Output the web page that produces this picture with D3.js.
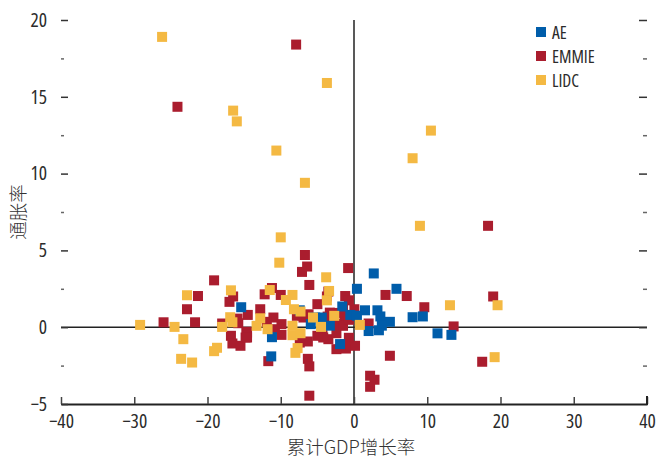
<!DOCTYPE html>
<html><head><meta charset="utf-8">
<script src="https://cdn.jsdelivr.net/npm/d3@7"></script>
<style>
body{margin:0;background:#fff;}
svg{display:block;}
.tl{font-family:"Open Sans","Roboto",sans-serif;font-stretch:75%;font-size:19.5px;fill:#2b2b2b;}
.lg{font-family:"Open Sans","Roboto",sans-serif;font-stretch:75%;font-size:17.5px;fill:#2b2b2b;}
.ttl{font-family:"Noto Sans CJK SC",sans-serif;font-weight:300;font-size:18.5px;fill:#333;}
</style></head><body>
<svg id="c" width="658" height="460"></svg>
<script>
const seriesNames = ["AE","EMMIE","LIDC"];
const xTicks = [-40,-30,-20,-10,0,10,20,30,40];
const yTicks = [-5,0,5,10,15,20];
const yMinorTicks = [-2.5,2.5,7.5,12.5,17.5];

const aeData = [[2.7,3.5],[0.4,2.5],[5.8,2.5],[1.5,1.1],[3.2,1.1],[3.6,0.7],[4.9,0.35],[3.8,0.1],[3.4,-0.2],[2.0,-0.25],
 [8.0,0.65],[9.4,0.7],[11.4,-0.4],[13.3,-0.5],[-15.4,1.3],[-11.3,-1.9],[-11.2,-0.65],[-1.9,-1.1],[-1.6,1.35],[-0.5,0.8],
 [-4.4,0.63],[-3.3,0.1],[-5.9,0.2],[-5.3,0.63],[0.4,0.75],[-7.4,1.1]];
const emmieData = [[-7.9,18.4],[-24.1,14.35],[18.3,6.6],[19.0,2.0],[13.6,0.05],[17.5,-2.25],[-6.7,4.7],[-6.4,3.95],[-7.1,3.6],[-0.8,3.85],
 [-19.1,3.05],[-6.1,2.75],[-16.5,2.0],[-17.0,1.65],[-14.5,0.8],[-15.9,0.56],[-15.8,0.26],[-18.0,0.24],[-21.3,2.03],[-22.8,1.17],
 [-26.0,0.32],[-21.7,0.32],[-16.8,-0.56],[-16.6,-1.06],[-15.5,-1.21],[-14.8,-0.67],[-14.7,-0.3],[4.3,2.1],[7.2,2.03],[9.6,1.3],
 [2.0,0.24],[0.05,1.17],[-1.2,2.03],[-0.7,1.75],[4.9,-1.86],[2.2,-3.16],[2.8,-3.42],[2.2,-3.88],[-6.1,-4.46],[-6.3,-2.06],
 [-6.1,-2.55],[-11.7,-2.21],[-6.3,-0.93],[0.14,-1.21],[-1.1,-1.39],[-0.7,-0.69],[-3.5,-0.78],[-4.2,-0.67],[-2.4,-0.39],[-1.3,0.69],
 [-2.2,0.93],[-2.4,0.21],[-1.5,0.09],[-0.7,0.48],[-3.6,0.69],[-4.3,-0.52],[-3.5,2.32],[-5.0,1.5],[-6.2,0.84],[-6.9,0.63],
 [-10.0,2.1],[-11.2,2.55],[-12.2,2.14],[-12.8,1.17],[-14.6,-0.35],[-14.6,-0.67],[-11.0,0.63],[-9.9,0.2],[-11.9,0.35],[-9.9,-0.5],
 [-7.4,-1.0],[-7.8,0.74],[-10.8,-0.13],[-5.0,-0.56],[-3.3,0.95],[-1.2,-1.1],[-2.4,-1.43],[-3.7,2.0],[-1.5,1.2]];
const lidcData = [[-26.2,18.9],[-16.5,14.1],[-16.0,13.4],[-3.7,15.9],[-10.6,11.5],[-6.7,9.4],[10.5,12.8],[8.0,11.0],[9.0,6.6],[-10.0,5.85],
 [-10.2,4.2],[-3.8,3.25],[13.1,1.43],[19.6,1.43],[19.2,-1.95],[-16.8,2.4],[-16.9,0.65],[-16.6,0.32],[-18.0,0.02],[-22.8,2.08],
 [-29.2,0.15],[-24.5,0.02],[-23.3,-0.78],[-23.6,-2.06],[-22.1,-2.3],[-18.7,-1.34],[-19.1,-1.56],[0.8,0.15],[-8.0,-1.67],[-7.7,-1.36],
 [-2.7,0.74],[-4.5,0.02],[-3.4,2.36],[-3.7,1.75],[-5.6,0.63],[-7.3,1.02],[-8.2,1.17],[-9.3,1.77],[-8.4,2.1],[-11.5,2.42],
 [-12.8,0.58],[-13.3,0.09],[-11.8,-0.13],[-8.4,0.09],[-8.4,-0.52],[-7.3,-0.39]];

const colors = {AE:"#005DAA",EMMIE:"#AA1D2E",LIDC:"#F4B943"};
const seriesData = {AE:aeData,EMMIE:emmieData,LIDC:lidcData};
const drawOrder = ["EMMIE","AE","LIDC"];

const svg = d3.select("#c");
const x = d3.scaleLinear().domain([-40,40]).range([61,647]);
const y = d3.scaleLinear().domain([-5,20]).range([404,20]);
const ink = "#222";
const fmt = d => d < 0 ? "\u2212" + Math.abs(d) : String(d);

// zero lines
svg.append("line").attr("x1",x(-40)).attr("x2",x(40)).attr("y1",y(0)).attr("y2",y(0)).attr("stroke",ink).attr("stroke-width",1.5);
svg.append("line").attr("x1",x(0)).attr("x2",x(0)).attr("y1",y(20)).attr("y2",y(-5)).attr("stroke",ink).attr("stroke-width",1.5);

// bottom axis
const xAxis = d3.axisBottom(x).tickValues(xTicks).tickSizeInner(-7).tickSizeOuter(0).tickPadding(10.5).tickFormat(fmt);
const gx = svg.append("g").attr("transform",`translate(0,${y(-5)})`).call(xAxis);
gx.select(".domain").attr("stroke",ink).attr("stroke-width",2);
gx.selectAll(".tick line").attr("stroke","#444").attr("stroke-width",1.5);
gx.selectAll("text").attr("class","tl").attr("font-size",null).attr("font-family",null).attr("fill",null);

// left axis (ticks inward)
const yAxis = d3.axisLeft(y).tickValues(yTicks).tickSizeInner(-7).tickSizeOuter(0).tickPadding(14).tickFormat(fmt);
const gy = svg.append("g").attr("transform",`translate(${x(-40)},0)`).call(yAxis);
gy.select(".domain").remove();
gy.selectAll(".tick line").attr("stroke","#333").attr("stroke-width",1.5);
gy.selectAll("text").attr("class","tl").attr("font-size",null).attr("font-family",null).attr("fill",null);
const gym = svg.append("g").attr("transform",`translate(${x(-40)},0)`)
  .call(d3.axisLeft(y).tickValues(yMinorTicks).tickSizeInner(-3).tickSizeOuter(0).tickFormat(""));
gym.select(".domain").remove();
gym.selectAll(".tick line").attr("stroke","#666").attr("stroke-width",1.5);

// right axis ticks
const gr = svg.append("g").attr("transform",`translate(${x(40)},0)`)
  .call(d3.axisRight(y).tickValues(yTicks.filter(d=>d>-5)).tickSizeInner(-8).tickSizeOuter(0).tickFormat(""));
gr.select(".domain").remove();
gr.selectAll(".tick line").attr("stroke","#333").attr("stroke-width",1.5);
const grm = svg.append("g").attr("transform",`translate(${x(40)},0)`)
  .call(d3.axisRight(y).tickValues(yMinorTicks).tickSizeInner(-4).tickSizeOuter(0).tickFormat(""));
grm.select(".domain").remove();
grm.selectAll(".tick line").attr("stroke","#666").attr("stroke-width",1.5);
svg.append("line").attr("x1",x(40)).attr("x2",x(40)).attr("y1",y(-5)-8).attr("y2",y(-5)+1).attr("stroke",ink).attr("stroke-width",2);

// points
const s = 10;
drawOrder.forEach(name => {
  svg.append("g").selectAll("rect").data(seriesData[name]).join("rect")
    .attr("x",d => x(d[0]) - s/2).attr("y",d => y(d[1]) - s/2)
    .attr("width",s).attr("height",s).attr("fill",colors[name]);
});

// axis titles
svg.append("text").attr("class","ttl").attr("x",x(0)-3).attr("y",454).attr("text-anchor","middle").text("累计GDP增长率");
svg.append("text").attr("class","ttl").attr("transform",`translate(25,${(y(20)+y(-5))/2}) rotate(-90)`).attr("text-anchor","middle").text("通胀率");

// legend
const lg = svg.append("g");
seriesNames.forEach((n,i) => {
  lg.append("rect").attr("x",536).attr("y",27+i*24).attr("width",10).attr("height",10).attr("fill",colors[n]);
  lg.append("text").attr("class","lg").attr("x",552).attr("y",38.5+i*24).text(n);
});
</script>
</body></html>
